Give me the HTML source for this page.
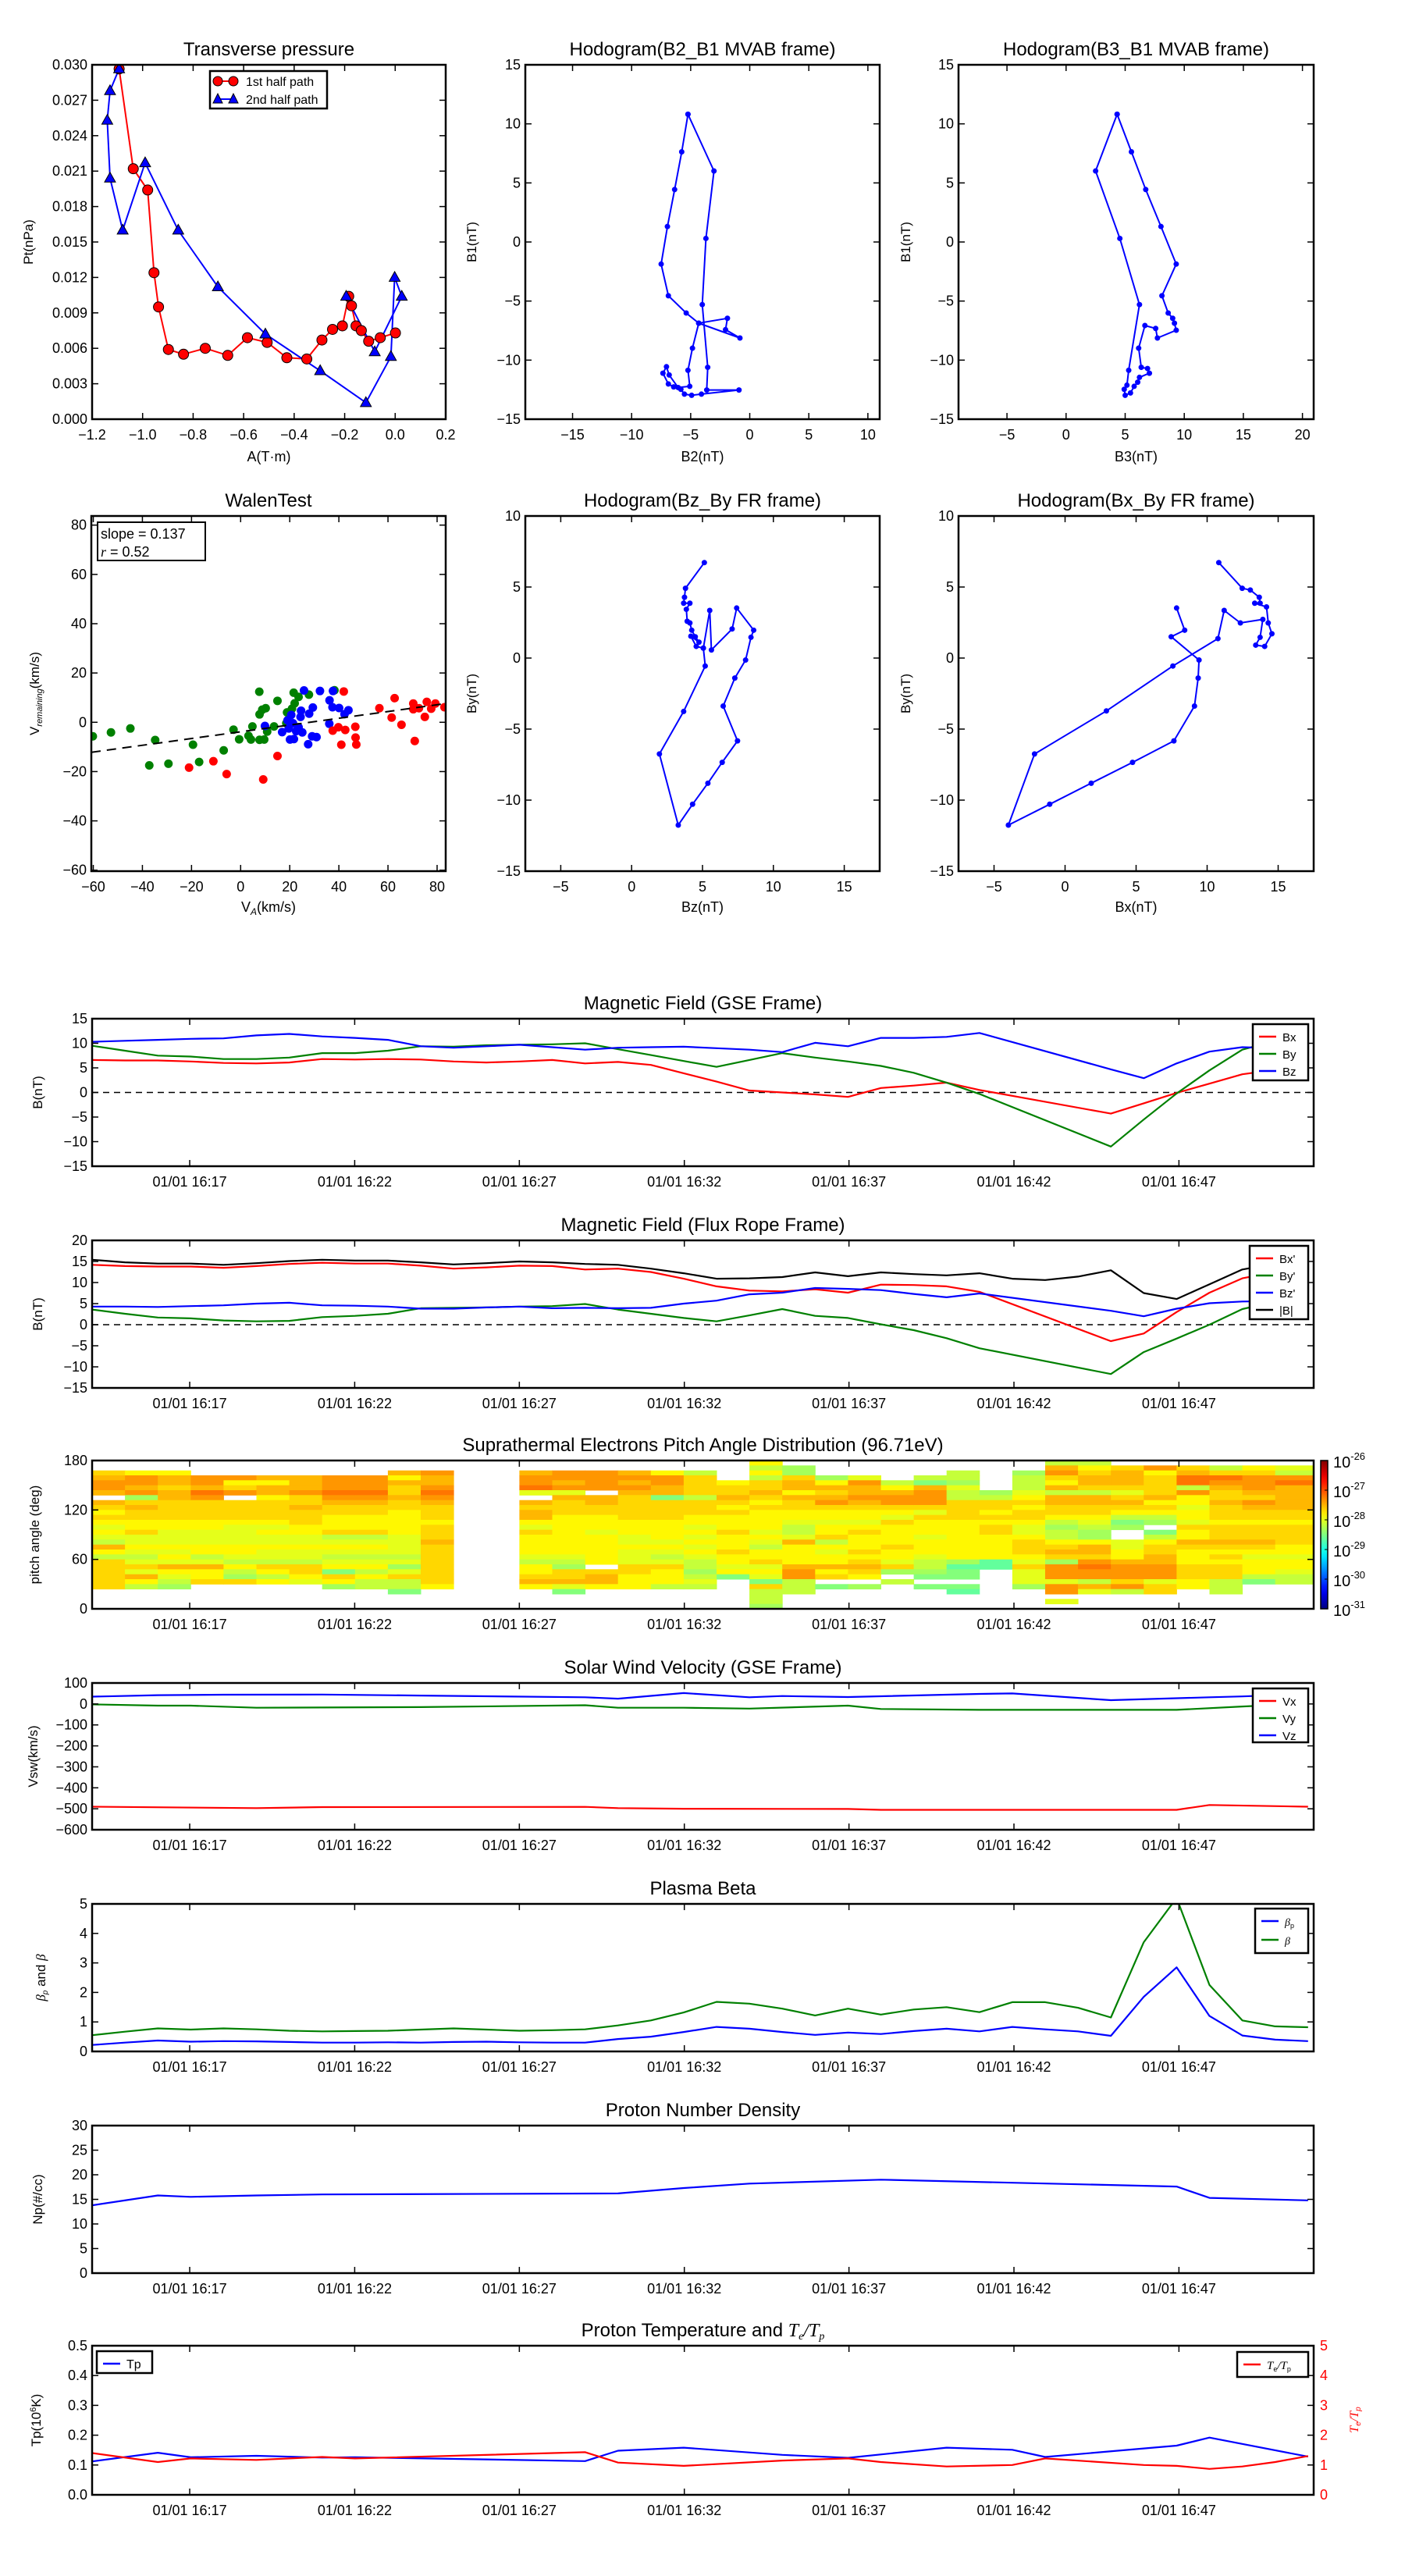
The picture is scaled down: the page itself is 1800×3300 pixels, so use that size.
<!DOCTYPE html>
<html><head><meta charset="utf-8"><title>Flux rope analysis</title>
<style>
html,body{margin:0;padding:0;background:#fff;}
svg{display:block;}
text{font-family:"Liberation Sans","DejaVu Sans",sans-serif;}
</style></head>
<body>
<svg id="chart" xmlns="http://www.w3.org/2000/svg" width="1800" height="3300" viewBox="0 0 1800 3300">
<rect x="0" y="0" width="1800" height="3300" fill="#fff"/>
</svg>
<script>
// ---------- DATA ----------
// Transverse pressure
const tp1A=[-1.093,-1.037,-0.980,-0.955,-0.937,-0.898,-0.838,-0.752,-0.663,-0.585,-0.507,-0.429,-0.350,-0.290,-0.248,-0.209,-0.184,-0.173,-0.155,-0.134,-0.105,-0.059,0.001];
const tp1P=[0.02965,0.0212,0.0194,0.0124,0.0095,0.0059,0.0055,0.0060,0.0054,0.0069,0.0065,0.0052,0.0051,0.0067,0.0076,0.0079,0.0104,0.0096,0.0079,0.0075,0.0066,0.0069,0.0073];
const tp2A=[-1.093,-1.129,-1.140,-1.129,-1.079,-0.990,-0.859,-0.702,-0.514,-0.297,-0.116,-0.017,-0.002,0.026,-0.081,-0.194];
const tp2P=[0.02965,0.0278,0.0253,0.0204,0.0160,0.0217,0.0160,0.0112,0.0072,0.0041,0.0014,0.0053,0.0120,0.0104,0.0057,0.0104];
// Hodogram B2-B1
const h1X=[-5.23,-3.03,-3.71,-4.02,-3.56,-3.64,-0.91,-4.09,-4.92,-5.53,-5.83,-6.44,-6.89,-7.35,-7.05,-6.82,-6.06,-5.08,-5.23,-4.85,-4.32,-0.83,-2.05,-1.89,-4.32,-5.38,-6.89,-7.50,-6.97,-6.36,-5.76,-5.23];
const h1Y=[10.81,6.01,0.30,-5.30,-10.61,-12.53,-12.53,-12.88,-12.98,-12.88,-12.47,-12.27,-12.02,-11.11,-10.56,-11.26,-12.32,-12.22,-10.86,-8.99,-6.87,-8.13,-7.42,-6.46,-6.87,-6.01,-4.55,-1.87,1.31,4.44,7.63,10.81];
// Hodogram B3-B1
const h2X=[4.32,5.53,6.74,8.03,9.32,8.11,8.64,9.02,9.17,9.32,7.73,7.58,6.67,6.14,6.36,6.89,7.05,6.21,6.06,5.76,5.45,5.00,4.92,5.15,5.30,6.21,4.55,2.50,4.32];
const h2Y=[10.81,7.63,4.44,1.31,-1.87,-4.55,-6.01,-6.46,-6.87,-7.47,-8.13,-7.32,-7.07,-8.99,-10.61,-10.71,-11.11,-11.46,-11.87,-12.22,-12.78,-12.98,-12.47,-12.12,-10.86,-5.30,0.30,6.01,10.81];
// Hodogram Bz-By (FR)
const h3X=[5.13,3.80,3.73,3.67,4.11,3.86,3.92,4.11,4.24,4.49,4.75,4.18,4.56,5.06,5.51,5.63,7.09,7.41,8.61,8.42,8.04,7.28,6.46,7.47,6.39,5.38,4.30,3.29,1.96,3.67,5.19,5.06];
const h3Y=[6.72,4.91,4.28,3.86,3.86,3.43,2.59,2.47,1.96,1.50,1.12,1.54,0.82,0.70,3.35,0.57,2.05,3.52,1.96,1.46,-0.14,-1.41,-3.38,-5.83,-7.34,-8.81,-10.29,-11.76,-6.75,-3.76,-0.56,0.70];
// Hodogram Bx-By (FR)
const h4X=[10.82,12.47,13.04,13.67,13.73,13.35,14.18,14.30,14.56,14.05,13.42,13.73,13.92,12.34,11.20,10.76,7.59,2.91,-2.15,-3.99,-1.08,1.84,4.75,7.66,9.11,9.37,9.43,7.47,8.42,7.85];
const h4Y=[6.72,4.91,4.79,4.28,3.86,3.86,3.60,2.47,1.71,0.82,0.91,1.46,2.72,2.47,3.35,1.37,-0.56,-3.72,-6.75,-11.76,-10.29,-8.81,-7.34,-5.83,-3.38,-1.41,-0.14,1.50,1.96,3.52];
// Walen test
const wGreenX=[-60.2,-52.8,-44.9,-34.8,-19.4,-37.2,-29.4,-16.9,-6.9,-2.9,-0.6,3.2,4.2,4.8,7.7,9.6,10.8,13.6,7.6,7.7,8.8,10.2,15.0,18.9,18.6,21.6,22.0,23.6,27.8,20.9,38.2];
const wGreenY=[-5.7,-4.1,-2.5,-7.2,-9.1,-17.5,-16.8,-16.1,-11.4,-3.0,-6.9,-5.5,-7.0,-1.7,-7.1,-7.0,-3.8,-1.7,12.4,3.2,5.1,5.7,8.7,4.0,-0.4,12.0,7.7,10.3,11.2,5.5,13.0];
const wBlueX=[9.9,16.9,19.1,20.6,20.1,21.7,22.6,24.4,25.1,24.6,25.8,27.9,27.5,29.1,30.9,29.4,32.3,36.2,37.6,37.4,40.1,36.1,42.3,43.9,21.3,23.6,19.6];
const wBlueY=[-1.5,-4.0,0.8,3.0,-7.0,-6.8,-3.6,2.2,-4.1,4.7,12.9,3.5,-8.9,-5.7,-6.0,6.0,12.7,8.9,12.7,6.1,5.8,-0.6,3.3,4.9,-0.4,-2.0,-2.5];
const wRedX=[-21.0,-11.1,-5.7,9.2,15.0,42.0,37.5,39.8,42.6,46.7,46.8,47.1,41.0,56.5,62.7,61.5,65.5,70.9,70.3,70.3,75.8,75.0,79.3,77.6,83.0,72.6];
const wRedY=[-18.4,-15.8,-21.0,-23.2,-13.7,12.5,-3.4,-2.0,-3.1,-1.8,-6.2,-9.0,-9.1,5.7,9.8,1.9,-1.0,-7.6,7.6,5.3,8.3,2.2,7.6,5.5,6.1,5.7];
const walenSlope=0.137, walenIntercept=-3.85;
// Time series (one sample per minute index, null = no sample)
const timeTickIdx=[2.97,7.99,13.0,18.02,23.03,28.05,33.07];
const timeTickLabels=['01/01 16:17','01/01 16:22','01/01 16:27','01/01 16:32','01/01 16:37','01/01 16:42','01/01 16:47'];
const gseBx=[6.6,6.5,6.5,6.3,6.0,5.9,6.1,6.8,6.7,6.8,6.7,6.3,6.1,6.3,6.6,5.9,6.2,5.6,3.9,2.2,0.4,0.0,-0.4,-0.9,0.9,1.4,2.0,0.5,null,null,null,-4.3,-2.2,-0.1,1.8,3.7,4.6,3.5];
const gseBy=[9.5,8.5,7.5,7.3,6.8,6.8,7.1,8.0,8.0,8.5,9.4,9.3,9.6,9.7,9.8,10.0,8.8,7.6,6.4,5.2,6.6,8.0,7.1,6.3,5.4,4.0,2.0,-0.3,null,null,null,-11.0,-5.5,-0.2,4.5,8.7,10.5,11.0];
const gseBz=[10.3,10.5,10.7,10.9,11.0,11.6,11.9,11.4,11.1,10.7,9.4,9.1,9.4,9.7,9.2,8.7,9.1,9.2,9.3,9.0,8.7,8.2,10.1,9.4,11.1,11.1,11.3,12.1,null,null,null,4.7,2.9,5.9,8.3,9.2,9.0,7.3];
const frBx=[14.2,13.9,13.8,13.8,13.5,13.9,14.4,14.7,14.5,14.5,14.0,13.3,13.6,14.0,13.9,13.1,13.3,12.5,10.9,9.1,8.1,7.9,8.4,7.6,9.5,9.4,9.1,7.8,null,null,null,-3.9,-2.1,3.0,7.6,11.0,12.5,10.8];
const frBy=[3.6,2.6,1.7,1.5,1.0,0.8,0.9,1.8,2.1,2.6,3.9,4.0,4.1,4.3,4.4,4.9,3.6,2.6,1.6,0.8,2.2,3.7,2.1,1.6,0.1,-1.3,-3.2,-5.6,null,null,null,-11.7,-6.5,-3.3,0.0,3.7,5.5,6.5];
const frBz=[4.3,4.3,4.2,4.4,4.6,5.0,5.2,4.6,4.5,4.3,3.8,3.8,4.1,4.3,3.9,4.0,3.9,4.0,5.0,5.7,7.2,7.6,8.7,8.5,8.2,7.3,6.5,7.4,null,null,null,3.3,2.0,3.8,5.1,5.5,5.6,5.2];
const frBt=[15.4,14.8,14.5,14.5,14.2,14.6,15.1,15.4,15.2,15.2,14.8,14.3,14.6,15.0,14.8,14.4,14.2,13.3,12.2,10.9,11.0,11.3,12.4,11.5,12.4,12.0,11.7,12.2,10.9,10.6,11.4,12.9,7.5,6.1,9.6,13.1,14.5,14.0];
const vswVx=[-490,null,null,null,null,-497,null,-492,null,null,null,null,null,null,null,-491,-497,null,-500,null,null,null,null,-501,-505,null,null,null,null,null,null,null,null,-505,-482,null,null,-490];
const vswVy=[-2,null,-8,-8,null,-18,null,-17,null,null,-15,null,null,null,null,-6,-18,null,-18,null,-22,null,null,-8,-24,null,null,-28,null,null,null,null,null,-28,null,-12,-5,-10];
const vswVz=[35,null,42,null,44,null,null,45,null,null,40,null,null,null,null,32,25,null,52,null,32,38,null,33,null,null,null,48,50,null,null,18,null,null,32,36,42,30];
const betaP=[0.22,0.30,0.37,0.33,0.35,0.34,0.32,0.30,0.30,0.31,0.30,0.32,0.33,0.31,0.30,0.30,0.42,0.50,0.66,0.83,0.77,0.66,0.56,0.64,0.59,0.69,0.77,0.68,0.83,0.75,0.68,0.53,1.85,2.85,1.20,0.54,0.40,0.35];
const betaT=[0.55,0.67,0.78,0.74,0.78,0.75,0.70,0.68,0.69,0.70,0.74,0.78,0.74,0.70,0.72,0.75,0.88,1.05,1.32,1.68,1.62,1.45,1.22,1.45,1.25,1.42,1.50,1.33,1.67,1.67,1.48,1.15,3.7,5.2,2.25,1.05,0.85,0.82];
const npVals=[13.8,null,15.8,15.5,null,15.8,null,16.0,null,null,null,null,null,null,null,null,16.2,null,17.3,null,18.2,null,null,null,19.0,null,null,null,null,null,null,null,null,17.6,15.3,null,null,14.8];
const tpVals=[0.112,null,0.141,0.126,null,0.131,null,0.125,0.126,null,null,null,null,null,null,0.113,0.148,null,0.158,null,null,0.134,null,0.124,null,null,0.158,null,0.151,0.127,null,null,null,0.165,0.192,null,null,0.128];
const teTpVals=[1.4,null,1.1,1.22,null,1.17,null,1.27,1.22,null,null,null,null,null,null,1.43,1.08,null,0.97,null,null,1.15,null,1.22,1.1,null,0.95,null,1.0,1.22,null,null,1.0,0.97,0.87,0.95,1.1,1.3];
// PAD: each column string, bins from 174-180 deg (first char) down to 0-6 deg; '.'=no data; digit d -> log10 f = -27.2 - 0.16*d
const padCols=[
"..32112.234345456246333333....",
"..411217323344355456535246....",
"..422322333344555454524567....",
"...1120133334455544652443.....",
"...1431.33334555544564673.....",
"...2422433334545545563464.....",
"...2221332333445545563345.....",
"...11101233444365456548347....",
"...11101233444365456546466....",
"..2423323344444555565753668...",
"..122101233343332333333334....",
"..............................",
"..............................",
"..21105.232245344445644324....",
"..1121523334444444456733258...",
"..1111.22334445444444.3224....",
"..212123333344455455533444....",
"..411228333344445456534446....",
"..633336333445454545667656....",
"....43323434443444344548......",
"464633234344445456443545836667",
".77322423344566524444211666...",
"...742321344544364544243 8....".replace(' ','.'),
"...512212344543444343234 7....".replace(' ','.'),
"....6421134534444344537 6.....".replace(' ','.'),
"...682111353444544456678 8....".replace(' ','.'),
"..6675663333444444447988.89...",
"......7633434334444499........",
"..766654343345543334535557....",
"621342622334676643237111511 5.".replace(' ','.'),
"643223622334567742231011625...",
".322235323468 7..5544211131 6.".replace(/ /g,''),
".14333324346 7.864332211153 3.".replace(/ /g,''),
".320061445445344234443334 4....".replace(' ',''),
".63012332333433323434333666....",
".43111231233433323454446 8.....".replace(' ',''),
".56102222233433334454456 6.....".replace(' ',''),
".56102222233433334454456 6.....".replace(' ','')
];
const cbLabels=['-26','-27','-28','-29','-30','-31'];

// ---------- HELPERS ----------
const NS='http://www.w3.org/2000/svg';
const svg=document.getElementById('chart');
function mk(tag,attrs,parent){const e=document.createElementNS(NS,tag);for(const k in attrs)e.setAttribute(k,attrs[k]);(parent||svg).appendChild(e);return e;}
function minus(s){return String(s).replace(/-/g,'\u2212');}
let clipN=0;
function makeAxes(name,bx,xd,yd){
  const g=mk('g',{});
  
  
  const sx=v=>bx.x0+(v-xd[0])/(xd[1]-xd[0])*(bx.x1-bx.x0);
  const sy=v=>bx.y1-(v-yd[0])/(yd[1]-yd[0])*(bx.y1-bx.y0);
  const id='clip'+(clipN++);
  const cp=mk('clipPath',{id:id},g);
  mk('rect',{x:bx.x0,y:bx.y0,width:bx.x1-bx.x0,height:bx.y1-bx.y0},cp);
  const plot=mk('g',{'clip-path':'url(#'+id+')'},g);
  
  
  return {g,plot,sx,sy,bx};
}
function addText(parent,x,y,s,size,anchor,extra){
  const t=mk('text',Object.assign({x:x,y:y,'font-size':size,'text-anchor':anchor||'middle',fill:'#000'},extra||{}),parent);
  t.textContent=s;return t;
}
function finishAxes(ax,xVals,xLabels,yVals,yLabels,opt){
  const b=ax.bx, g=ax.g;
  const tg=mk('g',{stroke:'#000','stroke-width':1.5},g);
  
  
  xVals.forEach((v,i)=>{
    const x=ax.sx(v);
    mk('line',{x1:x,y1:b.y1,x2:x,y2:b.y1-8},tg);
    mk('line',{x1:x,y1:b.y0,x2:x,y2:b.y0+8},tg);
    const t=addText(g,x,b.y1+26,minus(xLabels[i]),18,'middle');
    
    
  });
  yVals.forEach((v,i)=>{
    const y=ax.sy(v);
    mk('line',{x1:b.x0,y1:y,x2:b.x0+8,y2:y},tg);
    if(!opt||!opt.noRightTicks) mk('line',{x1:b.x1,y1:y,x2:b.x1-8,y2:y},tg);
    const t=addText(g,b.x0-6,y+6,minus(yLabels[i]),18,'end');
    
    
  });
  const sp=mk('rect',{x:b.x0,y:b.y0,width:b.x1-b.x0,height:b.y1-b.y0,fill:'none',stroke:'#000','stroke-width':2.5},g);
  
  
}
function addTitle(ax,s){
  const t=addText(ax.g,(ax.bx.x0+ax.bx.x1)/2,ax.bx.y0-12,s,24,'middle');
  
  
  return t;
}
function addYLabel(ax,x,s){
  const cy=(ax.bx.y0+ax.bx.y1)/2;
  const t=addText(ax.g,x,cy,s,17,'middle',{transform:'rotate(-90 '+x+' '+cy+')'});
  
  
  return t;
}
function addXLabel(ax,y,s){
  const t=addText(ax.g,(ax.bx.x0+ax.bx.x1)/2,y,s,18,'middle');
  
  
  return t;
}
function pathFrom(xs,ys,sx,sy){
  let d='';let first=true;
  for(let i=0;i<xs.length;i++){if(ys[i]===null||ys[i]===undefined)continue;d+=(first?'M':'L')+sx(xs[i]).toFixed(1)+' '+sy(ys[i]).toFixed(1)+' ';first=false;}
  return d;
}
function range(a,b,s){const r=[];for(let v=a;v<=b+1e-9;v+=s)r.push(Math.round(v*1000)/1000);return r;}
function legendBox(parent,x,y,w,h){
  const r=mk('rect',{x:x,y:y,width:w,height:h,fill:'#fff',stroke:'#000','stroke-width':2.5},parent);
  
  
}

// ---------- TOP ROW ----------
const TOP={y0:83,y1:537}, ROW2={y0:661,y1:1116};
// Transverse pressure
(function(){
  const ax=makeAxes('transverse-pressure-chart',{x0:118,x1:571,y0:TOP.y0,y1:TOP.y1},[-1.2,0.2],[0,0.030]);
  const xt=range(-1.2,0.2,0.2);const yt=range(0,0.030,0.003);
  const l1=mk('path',{d:pathFrom(tp1A,tp1P,ax.sx,ax.sy),fill:'none',stroke:'#f00','stroke-width':2},ax.plot);
  
  
  const l2=mk('path',{d:pathFrom(tp2A,tp2P,ax.sx,ax.sy),fill:'none',stroke:'#00f','stroke-width':2},ax.plot);
  
  
  tp1A.forEach((a,i)=>{
    const c=mk('circle',{cx:ax.sx(a),cy:ax.sy(tp1P[i]),r:6.5,fill:'#f00',stroke:'#000','stroke-width':1},ax.plot);
    
    
  });
  tp2A.forEach((a,i)=>{
    const x=ax.sx(a),y=ax.sy(tp2P[i]);
    const p=mk('polygon',{points:`${x},${y-7.5} ${x-7},${y+5} ${x+7},${y+5}`,fill:'#00f',stroke:'#000','stroke-width':1},ax.plot);
    
    
  });
  finishAxes(ax,xt,xt.map(v=>v.toFixed(1)),yt,yt.map(v=>v.toFixed(3)));
  addTitle(ax,'Transverse pressure');
  addYLabel(ax,42,'Pt(nPa)');
  addXLabel(ax,591,'A(T\u00b7m)');
  const lg=mk('g',{},ax.g);
  
  
  legendBox(lg,269,91,150,48);
  mk('line',{x1:279,y1:104,x2:299,y2:104,stroke:'#f00','stroke-width':2},lg);
  mk('circle',{cx:279,cy:104,r:6,fill:'#f00',stroke:'#000'},lg);
  mk('circle',{cx:299,cy:104,r:6,fill:'#f00',stroke:'#000'},lg);
  const t1=addText(lg,315,110,'1st half path',16,'start');
  
  
  mk('line',{x1:279,y1:127,x2:299,y2:127,stroke:'#00f','stroke-width':2},lg);
  mk('polygon',{points:'279,120 273,132 285,132',fill:'#00f',stroke:'#000'},lg);
  mk('polygon',{points:'299,120 293,132 305,132',fill:'#00f',stroke:'#000'},lg);
  const t2=addText(lg,315,133,'2nd half path',16,'start');
  
  
})();

function hodogram(name,bx,xd,yd,xs,ys,xt,yt,title,xl,yl,ylx,xly){
  const ax=makeAxes(name,bx,xd,yd);
  const l=mk('path',{d:pathFrom(xs,ys,ax.sx,ax.sy),fill:'none',stroke:'#00f','stroke-width':2},ax.plot);
  
  
  xs.forEach((v,i)=>{
    const c=mk('circle',{cx:ax.sx(v),cy:ax.sy(ys[i]),r:3.5,fill:'#00f'},ax.plot);
    
    
  });
  finishAxes(ax,xt,xt.map(String),yt,yt.map(String));
  addTitle(ax,title);
  addYLabel(ax,ylx,yl);
  addXLabel(ax,xly,xl);
}
hodogram('hodogram-b2-b1',{x0:673,x1:1127,y0:TOP.y0,y1:TOP.y1},[-19,11],[-15,15],h1X,h1Y,range(-15,10,5),range(-15,15,5),'Hodogram(B2_B1 MVAB frame)','B2(nT)','B1(nT)',610,591);
hodogram('hodogram-b3-b1',{x0:1228,x1:1683,y0:TOP.y0,y1:TOP.y1},[-9.1,20.95],[-15,15],h2X,h2Y,range(-5,20,5),range(-15,15,5),'Hodogram(B3_B1 MVAB frame)','B3(nT)','B1(nT)',1166,591);
hodogram('hodogram-bz-by',{x0:673,x1:1127,y0:ROW2.y0,y1:ROW2.y1},[-7.5,17.5],[-15,10],h3X,h3Y,range(-5,15,5),range(-15,10,5),'Hodogram(Bz_By FR frame)','Bz(nT)','By(nT)',610,1168);
hodogram('hodogram-bx-by',{x0:1228,x1:1683,y0:ROW2.y0,y1:ROW2.y1},[-7.5,17.5],[-15,10],h4X,h4Y,range(-5,15,5),range(-15,10,5),'Hodogram(Bx_By FR frame)','Bx(nT)','By(nT)',1166,1168);

// Walen test
(function(){
  const ax=makeAxes('walen-test-chart',{x0:117,x1:571,y0:ROW2.y0,y1:ROW2.y1},[-60.8,83.5],[-60.4,83.7]);
  const groups=[[wGreenX,wGreenY,'#008000','walen-point-green'],[wBlueX,wBlueY,'#00f','walen-point-blue'],[wRedX,wRedY,'#f00','walen-point-red']];
  groups.forEach(gp=>{
    gp[0].forEach((v,i)=>{
      const c=mk('circle',{cx:ax.sx(v),cy:ax.sy(gp[1][i]),r:5.5,fill:gp[2]},ax.plot);
      
      
    });
  });
  const fl=mk('line',{x1:ax.sx(-60.8),y1:ax.sy(walenSlope*-60.8+walenIntercept),x2:ax.sx(83.5),y2:ax.sy(walenSlope*83.5+walenIntercept),stroke:'#000','stroke-width':2,'stroke-dasharray':'12 8'},ax.plot);
  
  
  const xt=range(-60,80,20), yt=range(-60,80,20);
  finishAxes(ax,xt,xt.map(String),yt,yt.map(String));
  addTitle(ax,'WalenTest');
  const yl=addYLabel(ax,50,'');
  yl.innerHTML='V<tspan font-size="11" font-style="italic" dy="4">remaining</tspan><tspan dy="-4">(km/s)</tspan>';
  const xl=addXLabel(ax,1168,'');
  xl.innerHTML='V<tspan font-size="12" font-style="italic" dy="4">A</tspan><tspan dy="-4">(km/s)</tspan>';
  const sb=mk('g',{},ax.g);
  
  
  mk('rect',{x:125,y:669,width:138,height:49,fill:'#fff',stroke:'#000','stroke-width':2},sb);
  addText(sb,129,690,'slope = 0.137',18,'start');
  const r=addText(sb,129,713,'',18,'start');
  r.innerHTML='<tspan font-style="italic" font-family="Liberation Serif">r</tspan> = 0.52';
})();

// ---------- TIME PANELS ----------
const TX0=118,TX1=1683,TIDX=37.17;
function timeAxes(name,y0,y1,yd){return makeAxes(name,{x0:TX0,x1:TX1,y0:y0,y1:y1},[0,TIDX],yd);}
function idxArr(n){const a=[];for(let i=0;i<n;i++)a.push(i);return a;}
const IDX=idxArr(38);
function series(ax,vals,color,name){
  const p=mk('path',{d:pathFrom(IDX,vals,ax.sx,ax.sy),fill:'none',stroke:color,'stroke-width':2.2,'stroke-linejoin':'round'},ax.plot);
  
  
}
function zeroLine(ax){
  const z=mk('line',{x1:TX0,x2:TX1,y1:ax.sy(0),y2:ax.sy(0),stroke:'#000','stroke-width':1.5,'stroke-dasharray':'8 6'},ax.plot);
  
  
}
function timeLegend(ax,x,y,w,h,entries,spacing,fs){
  const lg=mk('g',{},ax.g);
  
  
  legendBox(lg,x,y,w,h);
  entries.forEach((e,i)=>{
    const cy=y+16+i*spacing;
    mk('line',{x1:x+8,x2:x+30,y1:cy,y2:cy,stroke:e[0],'stroke-width':2.5},lg);
    const t=addText(lg,x+38,cy+6,'',fs||15,'start');
    t.innerHTML=e[1];
    
    
  });
}
function timeFinish(ax,yt,ylab,opt){
  finishAxes(ax,timeTickIdx,timeTickLabels,yt,ylab,opt);
}

// GSE
(function(){
  const ax=timeAxes('magnetic-field-gse-chart',1305,1494,[-15,15]);
  zeroLine(ax);
  series(ax,gseBx,'#f00','series-bx');
  series(ax,gseBy,'#008000','series-by');
  series(ax,gseBz,'#00f','series-bz');
  const yt=range(-15,15,5);
  timeFinish(ax,yt,yt.map(String));
  addTitle(ax,'Magnetic Field (GSE Frame)');
  addYLabel(ax,54,'B(nT)');
  timeLegend(ax,1605,1312,71,72,[['#f00','Bx'],['#008000','By'],['#00f','Bz']],22);
})();
// FR
(function(){
  const ax=timeAxes('magnetic-field-fr-chart',1589,1778,[-15,20]);
  zeroLine(ax);
  series(ax,frBx,'#f00','series-bx-prime');
  series(ax,frBy,'#008000','series-by-prime');
  series(ax,frBz,'#00f','series-bz-prime');
  series(ax,frBt,'#000','series-b-total');
  const yt=range(-15,20,5);
  timeFinish(ax,yt,yt.map(String));
  addTitle(ax,'Magnetic Field (Flux Rope Frame)');
  addYLabel(ax,54,'B(nT)');
  timeLegend(ax,1601,1596,75,94,[['#f00',"Bx'"],['#008000',"By'"],['#00f',"Bz'"],['#000','|B|']],22);
})();
// PAD
function jet(f){
  f=Math.max(0,Math.min(1,f));
  const r=Math.max(0,Math.min(1,Math.min(4*f-1.5,-4*f+4.5)));
  const g=Math.max(0,Math.min(1,Math.min(4*f-0.5,-4*f+3.5)));
  const b=Math.max(0,Math.min(1,Math.min(4*f+0.5,-4*f+2.5)));
  return `rgb(${Math.round(r*255)},${Math.round(g*255)},${Math.round(b*255)})`;
}
(function(){
  const ax=timeAxes('pitch-angle-distribution-chart',1871,2061,[0,180]);
  padCols.forEach((s,ci)=>{
    for(let k=0;k<30;k++){
      const ch=s[k];
      if(ch===undefined||ch==='.'||ch===' ')continue;
      const d=parseInt(ch,10);if(isNaN(d))continue;
      const v=-27.2-0.16*d;
      const bin=29-k;
      const x0=ax.sx(ci),x1=ax.sx(ci+1),ya=ax.sy(bin*6+6),yb=ax.sy(bin*6);
      const c=mk('rect',{x:x0.toFixed(1),y:ya.toFixed(1),width:(x1-x0+0.5).toFixed(1),height:(yb-ya+0.5).toFixed(1),fill:jet((v+31)/5)},ax.plot);
      
      
    }
  });
  const yt=[0,60,120,180];
  timeFinish(ax,yt,yt.map(String));
  addTitle(ax,'Suprathermal Electrons Pitch Angle Distribution (96.71eV)');
  addYLabel(ax,50,'pitch angle (deg)');
  // colorbar
  const cb=mk('g',{},svg);
  
  
  const defs=mk('defs',{},cb);
  const lgd=mk('linearGradient',{id:'jetgrad',x1:0,y1:1,x2:0,y2:0},defs);
  for(let i=0;i<=20;i++){mk('stop',{offset:(i/20),'stop-color':jet(i/20)},lgd);}
  mk('rect',{x:1692,y:1871,width:9,height:190,fill:'url(#jetgrad)',stroke:'#000','stroke-width':1.5},cb);
  cbLabels.forEach((s,i)=>{
    const y=1871+i*190/5;
    mk('line',{x1:1697,x2:1701,y1:y,y2:y,stroke:'#000'},cb);
    const t=addText(cb,1708,y+9,'',20,'start');
    t.innerHTML='10<tspan font-size="13" dy="-10">'+s+'</tspan>';
    
    
  });
})();
// Solar wind velocity
(function(){
  const ax=timeAxes('solar-wind-velocity-chart',2156,2344,[-600,100]);
  series(ax,vswVx,'#f00','series-vx');
  series(ax,vswVy,'#008000','series-vy');
  series(ax,vswVz,'#00f','series-vz');
  const yt=range(-600,100,100);
  timeFinish(ax,yt,yt.map(String));
  addTitle(ax,'Solar Wind Velocity (GSE Frame)');
  addYLabel(ax,48,'Vsw(km/s)');
  timeLegend(ax,1605,2163,71,69,[['#f00','Vx'],['#008000','Vy'],['#00f','Vz']],22);
})();
// Plasma beta
(function(){
  const ax=timeAxes('plasma-beta-chart',2439,2628,[0,5]);
  series(ax,betaP,'#00f','series-beta-p');
  series(ax,betaT,'#008000','series-beta');
  const yt=range(0,5,1);
  timeFinish(ax,yt,yt.map(String));
  addTitle(ax,'Plasma Beta');
  const yl=addYLabel(ax,58,'');
  yl.innerHTML='<tspan font-style="italic" font-family="Liberation Serif">\u03b2</tspan><tspan font-size="10" font-style="italic" dy="3">p</tspan><tspan dy="-3"> and </tspan><tspan font-style="italic" font-family="Liberation Serif">\u03b2</tspan>';
  timeLegend(ax,1608,2445,68,57,[['#00f','<tspan font-style="italic" font-family="Liberation Serif">\u03b2</tspan><tspan font-size="9" dy="3">p</tspan>'],['#008000','<tspan font-style="italic" font-family="Liberation Serif">\u03b2</tspan>']],24,14);
})();
// Proton density
(function(){
  const ax=timeAxes('proton-density-chart',2723,2912,[0,30]);
  series(ax,npVals,'#00f','series-np');
  const yt=range(0,30,5);
  timeFinish(ax,yt,yt.map(String));
  addTitle(ax,'Proton Number Density');
  addYLabel(ax,54,'Np(#/cc)');
})();
// Proton temperature
(function(){
  const ax=timeAxes('proton-temperature-chart',3005,3196,[0,0.5]);
  const sy2=v=>3196-(v/5)*(3196-3005);
  series(ax,tpVals,'#00f','series-tp');
  const p=mk('path',{d:pathFrom(IDX,teTpVals,ax.sx,sy2),fill:'none',stroke:'#f00','stroke-width':2.2},ax.plot);
  
  
  const yt=range(0,0.5,0.1);
  timeFinish(ax,yt,yt.map(v=>v.toFixed(1)),{noRightTicks:true});
  const yr=[0,1,2,3,4,5];
  yr.forEach(v=>{
    const y=sy2(v);
    const l=mk('line',{x1:TX1,x2:TX1-8,y1:y,y2:y,stroke:'#000','stroke-width':1.5},ax.g);
    
    
    const t=addText(ax.g,TX1+8,y+6,String(v),18,'start',{fill:'#f00'});
    
    
  });
  const tt=addTitle(ax,'');
  tt.innerHTML='Proton Temperature and <tspan font-style="italic" font-family="Liberation Serif">T</tspan><tspan font-size="14" font-style="italic" font-family="Liberation Serif" dy="4">e</tspan><tspan dy="-4" font-style="italic" font-family="Liberation Serif">/T</tspan><tspan font-size="14" font-style="italic" font-family="Liberation Serif" dy="4">p</tspan>';
  const yl=addYLabel(ax,52,'');
  yl.innerHTML='Tp(10<tspan font-size="11" dy="-6">6</tspan><tspan dy="6">K)</tspan>';
  const cy=3100;
  const r=addText(ax.g,1740,cy,'',16,'middle',{transform:'rotate(-90 1740 '+cy+')',fill:'#f00'});
  r.innerHTML='<tspan font-style="italic" font-family="Liberation Serif">T</tspan><tspan font-size="10" dy="3" font-style="italic">e</tspan><tspan dy="-3" font-style="italic" font-family="Liberation Serif">/T</tspan><tspan font-size="10" dy="3" font-style="italic">p</tspan>';
  
  
  timeLegend(ax,124,3012,71,28,[['#00f','Tp']],0,16);
  timeLegend(ax,1585,3013,91,32,[['#f00','<tspan font-style="italic" font-family="Liberation Serif">T</tspan><tspan font-size="9" dy="3">e</tspan><tspan dy="-3" font-style="italic" font-family="Liberation Serif">/T</tspan><tspan font-size="9" dy="3">p</tspan>']],0,15);
})();
</script>
</body></html>
